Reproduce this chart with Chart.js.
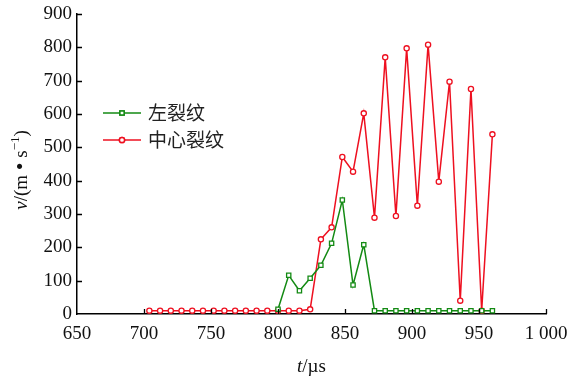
<!DOCTYPE html>
<html>
<head>
<meta charset="utf-8">
<script src="https://cdn.jsdelivr.net/npm/chart.js@4/dist/chart.umd.min.js"></script>
<style>
  html, body { margin: 0; padding: 0; background: #fff; }
  #wrap { width: 571px; height: 376px; }
</style>
</head>
<body>
<div id="wrap"><canvas id="chart"></canvas></div>
<script>
// time, µs
const times = [704, 712, 720, 728, 736, 744, 752, 760, 768, 776, 784, 792, 800,
  808, 816, 824, 832, 840, 848, 856, 864, 872, 880, 888, 896, 904, 912, 920,
  928, 936, 944, 952, 960];
// speed, m/s
const leftCrack = [null, null, null, null, null, null, null, null, null, null, null, null, 14,
  116, 70, 107, 146, 212, 342, 87, 208, 10, 10, 10, 10, 10, 10, 10,
  10, 10, 10, 10, 10];
const centerCrack = [10, 10, 10, 10, 10, 10, 10, 10, 10, 10, 10, 10, 10,
  10, 10, 14, 224, 260, 471, 427, 602, 289, 770, 294, 797, 325, 808, 397,
  697, 40, 675, 10, 539];
const seriesNames = ['左裂纹', '中心裂纹'];
const xTicks = [650, 700, 750, 800, 850, 900, 950, 1000];
const yTicks = [0, 100, 200, 300, 400, 500, 600, 700, 800, 900];

const serif = '"Liberation Serif", "Times New Roman", serif';
const cjk = '"Noto Sans CJK SC", sans-serif';

function toPoints(vals) {
  return times.map((t, i) => ({ x: t, y: vals[i] }));
}

// inward ticks, axis titles and the in-plot legend
const decor = {
  id: 'decor',
  afterDraw(chart) {
    const { ctx, chartArea: a, scales } = chart;
    ctx.save();
    ctx.strokeStyle = '#000';
    ctx.lineWidth = 1.3;
    ctx.beginPath();
    xTicks.slice(1).forEach(v => {
      const px = Math.round(scales.x.getPixelForValue(v)) + 0.5;
      ctx.moveTo(px, a.bottom);
      ctx.lineTo(px, a.bottom - 5);
    });
    yTicks.slice(1).forEach(v => {
      const py = Math.round(scales.y.getPixelForValue(v)) + 0.5;
      ctx.moveTo(a.left, py);
      ctx.lineTo(a.left + 5, py);
    });
    ctx.stroke();

    // x title: t/µs
    ctx.fillStyle = '#111';
    ctx.textBaseline = 'alphabetic';
    const xRuns = [['t', 'italic 19px ' + serif], ['/µs', '19px ' + serif]];
    drawRuns(ctx, xRuns, (a.left + a.right) / 2, 372);

    // y title: v/(m • s^-1)
    ctx.save();
    ctx.translate(27, 170);
    ctx.rotate(-Math.PI / 2);
    const yRuns = [['v', 'italic 19px ' + serif], ['/(m ', '19px ' + serif],
      ['•', '22px ' + serif], [' s', '19px ' + serif],
      ['−1', '13px ' + serif, -8], [')', '19px ' + serif]];
    drawRuns(ctx, yRuns, 0, 0);
    ctx.restore();

    // legend
    chart.data.datasets.forEach((ds, i) => {
      const y = 113 + i * 27;
      ctx.strokeStyle = ds.borderColor;
      ctx.lineWidth = 1.5;
      ctx.beginPath();
      ctx.moveTo(103, y);
      ctx.lineTo(141, y);
      ctx.stroke();
      Chart.helpers.drawPoint(ctx, {
        pointStyle: ds.pointStyle, radius: ds.pointRadius, borderWidth: 1.3
      }, 122, y);
      ctx.fillStyle = '#fff';
      ctx.fill();
      ctx.strokeStyle = ds.borderColor;
      ctx.stroke();
      ctx.fillStyle = '#222';
      ctx.font = '19px ' + cjk;
      ctx.textAlign = 'left';
      ctx.textBaseline = 'middle';
      ctx.fillText(ds.label, 148, y);
    });
    ctx.restore();
  }
};

function drawRuns(ctx, runs, cx, baseY) {
  let total = 0;
  runs.forEach(r => { ctx.font = r[1]; total += ctx.measureText(r[0]).width; });
  let x = cx - total / 2;
  ctx.textAlign = 'left';
  runs.forEach(r => {
    ctx.font = r[1];
    ctx.fillText(r[0], x, baseY + (r[2] || 0));
    x += ctx.measureText(r[0]).width;
  });
}

new Chart(document.getElementById('chart'), {
  type: 'line',
  data: {
    datasets: [
      {
        label: seriesNames[0],
        data: toPoints(leftCrack),
        borderColor: '#138a13',
        backgroundColor: '#fff',
        borderWidth: 1.5,
        pointStyle: 'rect',
        pointRadius: 3,
        pointBorderWidth: 1.3,
        tension: 0,
      },
      {
        label: seriesNames[1],
        data: toPoints(centerCrack),
        borderColor: '#ee1020',
        backgroundColor: '#fff',
        borderWidth: 1.5,
        pointStyle: 'circle',
        pointRadius: 2.6,
        pointBorderWidth: 1.3,
        tension: 0,
      },
    ],
  },
  options: {
    responsive: true,
    maintainAspectRatio: false,
    animation: false,
    layout: { padding: { top: 14, right: 25, left: 0, bottom: 0 } },
    plugins: {
      legend: { display: false },
      tooltip: { enabled: false },
    },
    scales: {
      x: {
        type: 'linear',
        min: 650,
        max: 1000,
        afterBuildTicks: (s) => { s.ticks = xTicks.map(v => ({ value: v })); },
        afterFit: (s) => { s.height = 62; s.paddingLeft = 0; s.paddingRight = 0; },
        grid: { display: false, drawTicks: false },
        border: { display: true, color: '#000', width: 1.5 },
        ticks: {
          color: '#111',
          padding: 9,
          maxRotation: 0,
          font: { family: serif, size: 19 },
          callback: (v) => v >= 1000 ? String(v).replace(/(\d)(\d{3})$/, '$1 $2') : String(v),
        },
      },
      y: {
        min: 0,
        max: 900,
        afterBuildTicks: (s) => { s.ticks = yTicks.map(v => ({ value: v })); },
        afterFit: (s) => { s.width = 77; s.paddingTop = 0; s.paddingBottom = 0; },
        grid: { display: false, drawTicks: false },
        border: { display: true, color: '#000', width: 1.5 },
        ticks: {
          color: '#111',
          padding: 5,
          font: { family: serif, size: 19 },
        },
      },
    },
  },
  plugins: [decor],
});
</script>
</body>
</html>
